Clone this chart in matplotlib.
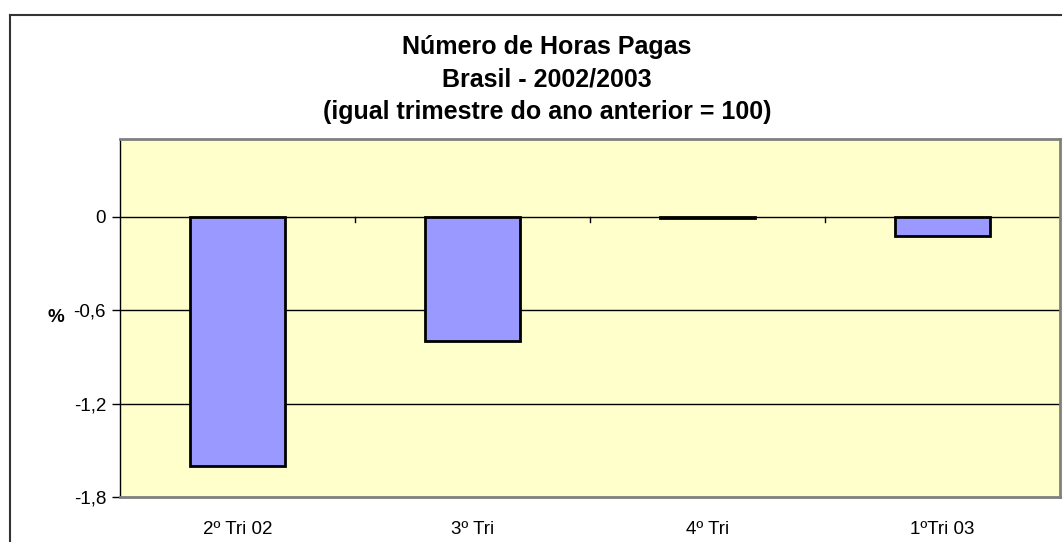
import matplotlib
matplotlib.use("Agg")
import matplotlib.pyplot as plt
from matplotlib.lines import Line2D

plt.rcParams['font.family'] = ['Liberation Sans', 'DejaVu Sans']

categorias = ["2º Tri 02", "3º Tri", "4º Tri", "1ºTri 03"]
valores = [-1.6, -0.8, -0.005, -0.12]
yticks = [0, -0.6, -1.2, -1.8]
ytick_labels = ["0", "-0,6", "-1,2", "-1,8"]
titulo = ["Número de Horas Pagas", "Brasil - 2002/2003", "(igual trimestre do ano anterior = 100)"]

W, H = 1062, 542
fig = plt.figure(figsize=(W / 100, H / 100), dpi=100)
ax = fig.add_axes([120 / W, (H - 497) / H, 940 / W, 358 / H])
ax.set_facecolor("#FFFFCC")

x = list(range(len(categorias)))
ax.bar(x, valores, width=0.404, color="#9999FF", edgecolor="black", linewidth=2, zorder=3)

ax.set_xlim(-0.5, len(categorias) - 0.5)
ax.set_ylim(-1.8, 0.5)
ax.set_yticks(yticks)
ax.set_yticklabels(ytick_labels, fontsize=13.5)
for v in yticks[:-1]:
    ax.axhline(v, color="black", linewidth=1, zorder=1)

ax.set_xticks(x)
ax.set_xticklabels(categorias, fontsize=13.5)
ax.tick_params(axis="x", length=0, pad=17)
ax.tick_params(axis="y", length=6, width=1, pad=4)

# marcas do eixo de categorias sobre a linha do zero
for b in [0.5, 1.5, 2.5]:
    ax.plot([b, b], [0, -0.035], color="black", linewidth=1, zorder=2)

for s in ["top", "right", "bottom"]:
    ax.spines[s].set_color("#808080")
    ax.spines[s].set_linewidth(2)
ax.spines["left"].set_color("black")
ax.spines["left"].set_linewidth(1)

fig.text(56 / W, 1 - 318 / H, "%", fontsize=13.5, fontweight="bold", ha="center", va="center")

ys = [47, 79.5, 112]
for t, yy in zip(titulo, ys):
    fig.text(547 / W, 1 - yy / H, t, fontsize=18, fontweight="bold", ha="center", va="center")

# borda da área do gráfico
fig.add_artist(Line2D([10 / W, 1.0], [1 - 15 / H, 1 - 15 / H], color="#333333", linewidth=1.5))
fig.add_artist(Line2D([10 / W, 10 / W], [0, 1 - 15 / H], color="#333333", linewidth=1.5))

fig.savefig("out.png", dpi=100)
